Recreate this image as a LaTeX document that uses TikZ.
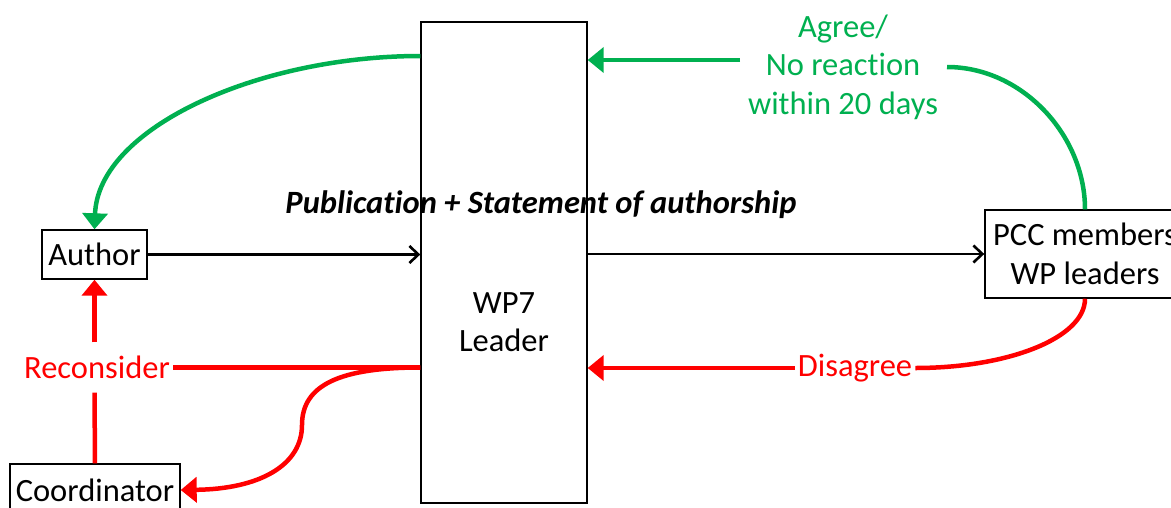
\documentclass[tikz,border=0pt]{standalone}
\usepackage{fontspec}
\setmainfont{Carlito}[Ligatures=NoCommon]
\usetikzlibrary{arrows.meta,calc}
\definecolor{ogreen}{HTML}{00B050}
\definecolor{ored}{HTML}{FF0000}
\begin{document}
\begin{tikzpicture}[x=1pt,y=-1pt,
  every node/.style={font=\fontsize{32.5}{38.5}\selectfont},
  box/.style={draw=black,line width=1.4pt,fill=white,inner sep=0pt},
  lbl/.style={inner sep=3pt,align=center},
  blk/.style={draw=black,line width=2.8pt,-{Straight Barb[length=9pt,width=17pt,line width=2.6pt]}},
  grn/.style={draw=ogreen,line width=4.5pt},
  grnarr/.style={grn,-{Triangle[length=16pt,width=25pt]}},
  rd/.style={draw=ored,line width=4.5pt},
  rdarr/.style={rd,-{Triangle[length=16pt,width=25pt]}}]
\useasboundingbox (0,0) rectangle (1171,507);

% boxes
\node[box,minimum width=166pt,minimum height=481pt] (wp) at (504,262.5) {};
\node[lbl] (wpt) at (504,322) {WP7\\Leader};
\node[box,minimum width=105pt,minimum height=49pt] (author) at (94.5,254.5) {Author};
\node[box,minimum width=170pt,minimum height=52pt] (coord) at (95,490) {Coordinator};
\node[box,minimum width=200pt,minimum height=88pt,align=center] (pcc) at (1085,254) {PCC members\\WP leaders};

% labels
\node[lbl] (pub) at (541,205) {\textbf{\textit{Publication + Statement of authorship}}};
\node[lbl,text=ogreen] (agree) at (843,67) {Agree/\\No reaction\\within 20 days};
\node[lbl,text=ored] (dis) at (855,368) {Disagree};
\node[lbl,text=ored,minimum height=50pt] (rec) at (97,367.5) {Reconsider};

\coordinate (gstart) at (740,60);
\coordinate (gend) at (947,67);

% black arrows
\draw[blk] (author.east) -- (author.east -| wp.west);
\draw[blk] (pcc.west -| wp.east) -- (pcc.west);

% green
\draw[grnarr] (wp.west |- 0,56) .. controls (258,56) and (98,128) .. (author.north);
\draw[grn] (pcc.north) .. controls (1085,135) and (1022,67) .. (gend);
\draw[grnarr] (gstart) -- (gstart -| wp.east);

% red
\draw[rd] (pcc.south) .. controls (1085,338) and (1008,368) .. (dis.east);
\draw[rdarr] (dis.west) -- (dis.west -| wp.east);
\draw[rd] (rec.east) -- (wp.west |- rec.east);
\draw[rdarr] (author.south |- rec.north) -- (author.south);
\draw[rd] (author.south |- rec.south) -- (coord.north);
\draw[rdarr] (wp.west |- rec.east) .. controls (340,367.5) and (302,385) .. (302,425)
  .. controls (302,465) and (260,489) .. (coord.east);
\end{tikzpicture}
\end{document}
